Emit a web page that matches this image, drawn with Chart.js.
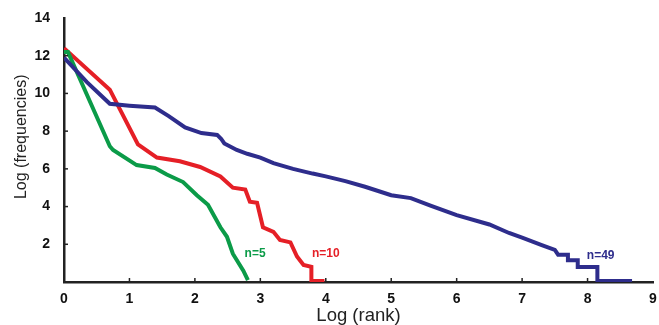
<!DOCTYPE html>
<html lang="en">
<head>
    <meta charset="UTF-8">
    <title>Log rank vs log frequencies</title>
    <script src="https://cdn.jsdelivr.net/npm/chart.js"></script>
    <style>
        body { margin: 0; background: #fff; }
        #wrap { width: 659px; height: 325px; }
    </style>
</head>
<body>
    <div id="wrap"><canvas id="rankChart" width="659" height="325"></canvas></div>

    <script>
        // n=49 (blue)
        const rank49 = [0, 0.35, 0.70, 1.0, 1.39, 1.6, 1.85, 2.1, 2.34, 2.4, 2.45, 2.64, 2.8, 3.0, 3.2, 3.5, 3.8, 4.0, 4.3, 4.6, 5.0, 5.3, 5.6, 6.0, 6.5, 6.8, 7.0, 7.3, 7.5, 7.55, 7.7, 7.7, 7.85, 7.85, 8.15, 8.15, 8.68];
        const freq49 = [11.9, 10.6, 9.45, 9.35, 9.25, 8.8, 8.2, 7.9, 7.8, 7.6, 7.35, 7.0, 6.8, 6.6, 6.3, 6.0, 5.75, 5.6, 5.35, 5.05, 4.6, 4.45, 4.05, 3.55, 3.05, 2.6, 2.35, 1.95, 1.7, 1.45, 1.45, 1.15, 1.15, 0.8, 0.8, 0.05, 0.05];

        // n=10 (red)
        const rank10 = [0, 0.70, 1.13, 1.42, 1.77, 2.08, 2.39, 2.58, 2.77, 2.84, 2.95, 3.04, 3.2, 3.3, 3.46, 3.56, 3.66, 3.78, 3.78, 3.98];
        const freq10 = [12.4, 10.2, 7.3, 6.6, 6.4, 6.1, 5.6, 5.0, 4.9, 4.26, 4.2, 2.9, 2.66, 2.23, 2.1, 1.35, 0.9, 0.8, 0.05, 0.05];

        // n=5 (green)
        const rank5 = [0, 0.06, 0.7, 0.75, 1.11, 1.39, 1.57, 1.82, 2.03, 2.2, 2.39, 2.49, 2.58, 2.74, 2.81];
        const freq5 = [12.2, 12.2, 7.2, 7.0, 6.2, 6.05, 5.7, 5.3, 4.6, 4.1, 2.9, 2.4, 1.5, 0.6, 0.1];

        const xTicks = [0, 1, 2, 3, 4, 5, 6, 7, 8, 9];
        const yTicks = [2, 4, 6, 8, 10, 12, 14];

        // series labels placed in data coordinates
        const seriesLabels = [
            { text: 'n=5', x: 2.92, y: 1.5, color: '#0b9b48' },
            { text: 'n=10', x: 4.0, y: 1.5, color: '#e51f26' },
            { text: 'n=49', x: 8.2, y: 1.4, color: '#2e2d8c' }
        ];

        const FONT = '"Liberation Sans", Arial, sans-serif';

        function toPoints(xs, ys) {
            return xs.map((x, i) => ({ x: x, y: ys[i] }));
        }

        const labelPlugin = {
            id: 'labels',
            afterDatasetsDraw(chart) {
                const ctx = chart.ctx;
                const xs = chart.scales.x, ys = chart.scales.y;
                ctx.save();
                // inward tick marks
                ctx.strokeStyle = '#222';
                ctx.lineWidth = 1.5;
                xTicks.slice(1, -1).forEach(v => {
                    const px = xs.getPixelForValue(v);
                    ctx.beginPath();
                    ctx.moveTo(px, ys.bottom);
                    ctx.lineTo(px, ys.bottom - 4);
                    ctx.stroke();
                });
                yTicks.slice(0, -1).forEach(v => {
                    const py = ys.getPixelForValue(v);
                    ctx.beginPath();
                    ctx.moveTo(xs.left, py);
                    ctx.lineTo(xs.left + 4, py);
                    ctx.stroke();
                });
                ctx.font = 'bold 12px ' + FONT;
                ctx.textAlign = 'center';
                ctx.textBaseline = 'middle';
                seriesLabels.forEach(l => {
                    ctx.fillStyle = l.color;
                    ctx.fillText(l.text, xs.getPixelForValue(l.x), ys.getPixelForValue(l.y));
                });
                // x axis title, bottom of it runs off the picture like the original
                ctx.fillStyle = '#222';
                ctx.font = '18.5px ' + FONT;
                ctx.textBaseline = 'alphabetic';
                ctx.fillText('Log (rank)', (xs.left + xs.right) / 2, 321);
                // y axis title, sits a little above the middle of the axis
                ctx.translate(22, ys.getPixelForValue(7.7));
                ctx.rotate(-Math.PI / 2);
                ctx.textBaseline = 'middle';
                ctx.font = '16px ' + FONT;
                ctx.fillText('Log (frequencies)', 0, 0);
                ctx.restore();
            }
        };

        const lineStyle = { borderWidth: 4, pointRadius: 0, fill: false, tension: 0 };

        new Chart(document.getElementById('rankChart'), {
            type: 'line',
            data: {
                datasets: [
                    Object.assign({ label: 'n=49', data: toPoints(rank49, freq49), borderColor: '#2e2d8c' }, lineStyle),
                    Object.assign({ label: 'n=5', data: toPoints(rank5, freq5), borderColor: '#0b9b48' }, lineStyle),
                    Object.assign({ label: 'n=10', data: toPoints(rank10, freq10), borderColor: '#e51f26' }, lineStyle)
                ]
            },
            options: {
                responsive: false,
                animation: false,
                layout: { padding: { top: 18, right: 6, left: 0, bottom: 0 } },
                plugins: {
                    legend: { display: false },
                    tooltip: { enabled: false }
                },
                scales: {
                    x: {
                        type: 'linear',
                        min: 0, max: 9,
                        afterBuildTicks: s => { s.ticks = xTicks.map(v => ({ value: v })); },
                        afterFit: s => { s.height = 43; },
                        grid: { display: false },
                        border: { display: true, color: '#222', width: 2.5 },
                        ticks: {
                            color: '#111',
                            padding: 1,
                            font: { family: FONT, size: 14, weight: 'bold' }
                        }
                    },
                    y: {
                        min: 0, max: 14,
                        afterBuildTicks: s => { s.ticks = yTicks.map(v => ({ value: v })); },
                        afterFit: s => { s.width = 64; },
                        grid: { display: false },
                        border: { display: true, color: '#222', width: 2.5 },
                        ticks: {
                            color: '#111',
                            padding: 6,
                            font: { family: FONT, size: 14, weight: 'bold' }
                        }
                    }
                }
            },
            plugins: [labelPlugin]
        });
    </script>
</body>
</html>
